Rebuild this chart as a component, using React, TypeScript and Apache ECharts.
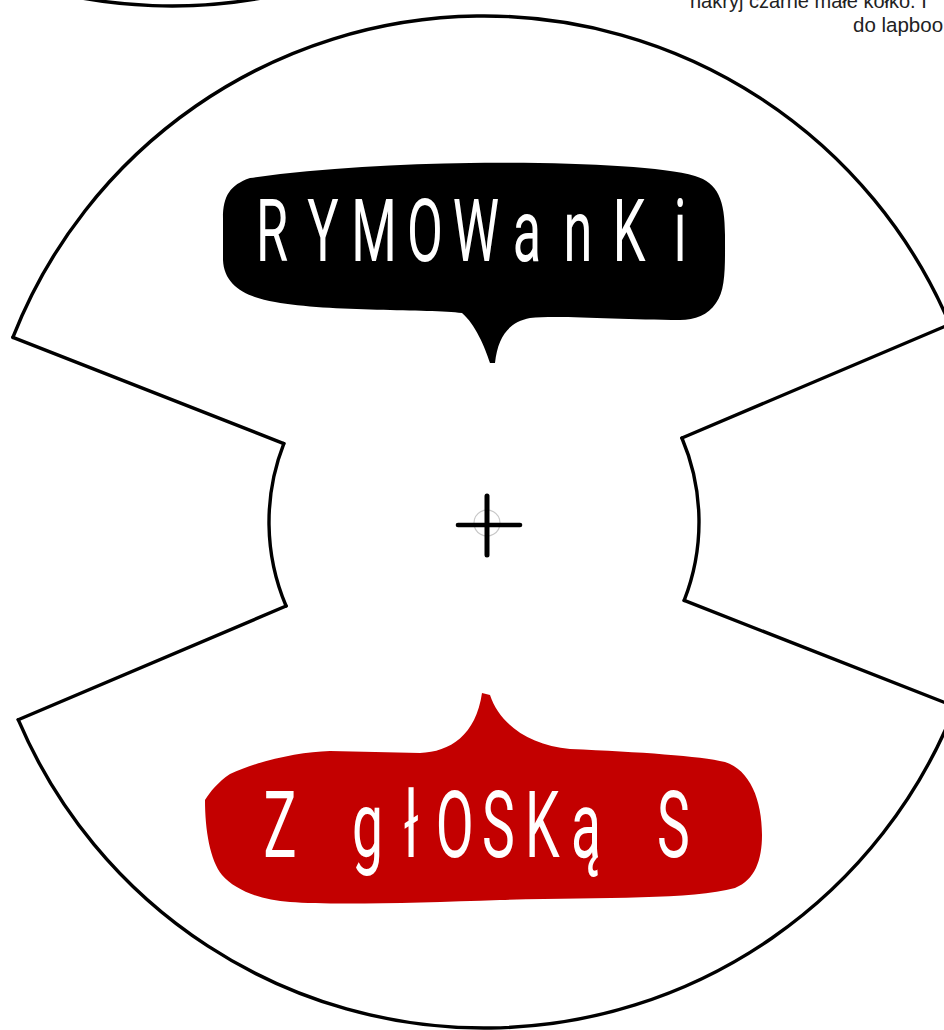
import React, { useEffect, useRef } from "react";
import * as echarts from "echarts";

// ---- content ----
const topLetters = ["R", "Y", "M", "O", "W", "a", "n", "K", "i"];
const bottomLetters = ["Z", " ", "g", "ł", "O", "S", "K", "ą", " ", "S"];
const noteLines = ["nakryj czarne małe kółko. I", "do lapboo"];

// wheel geometry (degrees, screen coordinates)
const gapCenters = [-0.8, 179.2];
const gapHalfWidth = 22.2;

const W = 944;
const H = 1030;

const topBubblePath =
  "M 223 218 C 223 196 230 185 250 178 C 320 168 400 164 470 163 C 570 162 660 166 695 176 " +
  "C 718 183 725 200 725 235 C 725 265 726 290 716 303 C 708 315 695 320 680 320 " +
  "C 620 320 560 315 530 318 C 510 322 498 335 495 363 L 490 363 C 485 347 475 324 462 313 " +
  "C 430 309 330 312 275 302 C 245 297 224 285 223 260 Z";

const bottomBubblePath =
  "M 205 800 C 210 792 218 782 230 774 C 260 760 300 752 330 751 L 420 753 " +
  "C 450 752 476 735 482 693 L 490 695 C 500 725 530 745 570 749 " +
  "C 640 752 700 756 725 762 C 750 770 762 800 762 835 C 762 860 755 880 735 888 " +
  "C 690 900 600 897 500 900 C 420 903 330 905 290 902 C 260 900 235 890 222 875 " +
  "C 210 860 205 830 205 800 Z";

echarts.graphic.registerShape("bubbleTop", echarts.graphic.extendPath(topBubblePath, {}));
echarts.graphic.registerShape("bubbleBottom", echarts.graphic.extendPath(bottomBubblePath, {}));

function buildElements() {
  const cx = 484;
  const cy = 522;
  const rOut = 506;
  const rIn = 215;
  const d2r = Math.PI / 180;
  const lineStyle = { stroke: "#000", lineWidth: 3.4, fill: null, lineCap: "round" };

  const right = [gapCenters[0] - gapHalfWidth, gapCenters[0] + gapHalfWidth];
  const left = [gapCenters[1] - gapHalfWidth, gapCenters[1] + gapHalfWidth];

  const els: any[] = [];
  // outer arcs
  els.push({
    type: "arc",
    shape: { cx, cy, r: rOut, startAngle: (left[1] - 360) * d2r, endAngle: right[0] * d2r, clockwise: true },
    style: lineStyle,
  });
  els.push({
    type: "arc",
    shape: { cx, cy, r: rOut, startAngle: right[1] * d2r, endAngle: left[0] * d2r, clockwise: true },
    style: lineStyle,
  });
  // inner arcs
  els.push({
    type: "arc",
    shape: { cx, cy, r: rIn, startAngle: right[0] * d2r, endAngle: right[1] * d2r, clockwise: true },
    style: lineStyle,
  });
  els.push({
    type: "arc",
    shape: { cx, cy, r: rIn, startAngle: left[0] * d2r, endAngle: left[1] * d2r, clockwise: true },
    style: lineStyle,
  });
  // radial edges
  [right[0], right[1], left[0], left[1]].forEach((a) => {
    const c = Math.cos(a * d2r);
    const s = Math.sin(a * d2r);
    els.push({
      type: "line",
      shape: { x1: cx + rIn * c, y1: cy + rIn * s, x2: cx + rOut * c, y2: cy + rOut * s },
      style: lineStyle,
    });
  });

  // neighbouring wheel peeking at the top-left
  els.push({
    type: "circle",
    shape: { cx: 172, cy: -500, r: 506 },
    style: { stroke: "#000", lineWidth: 3.4, fill: null },
  });

  // speech bubbles
  els.push({ type: "bubbleTop", style: { fill: "#000" } });
  els.push({ type: "bubbleBottom", style: { fill: "#c30000" } });

  // bubble texts
  topLetters.forEach((ch, i) => {
    if (ch === " ") return;
    els.push({
      type: "text",
      x: 272 + i * 51,
      y: 231,
      scaleX: 0.6,
      style: {
        text: ch,
        fill: "#fff",
        fontFamily: "Roboto",
        fontWeight: 400,
        fontSize: 87,
        align: "center",
        verticalAlign: "middle",
      },
    });
  });
  bottomLetters.forEach((ch, i) => {
    if (ch === " ") return;
    els.push({
      type: "text",
      x: 280 + i * 43.7,
      y: 826,
      scaleX: 0.6,
      style: {
        text: ch,
        fill: "#fff",
        fontFamily: "Roboto",
        fontWeight: 400,
        fontSize: 92,
        align: "center",
        verticalAlign: "middle",
      },
    });
  });

  // centre mark
  els.push({
    type: "circle",
    shape: { cx: 487, cy: 523, r: 13 },
    style: { stroke: "#c8c8c8", lineWidth: 1.2, fill: null },
  });
  els.push({
    type: "line",
    shape: { x1: 458, y1: 525, x2: 520, y2: 525 },
    style: { stroke: "#000", lineWidth: 4.6, lineCap: "round" },
  });
  els.push({
    type: "line",
    shape: { x1: 487, y1: 496, x2: 487, y2: 555 },
    style: { stroke: "#000", lineWidth: 5, lineCap: "round" },
  });

  // note at the top right
  els.push({
    type: "text",
    x: 690,
    y: 1,
    style: {
      text: noteLines[0],
      fill: "#222",
      fontFamily: "Liberation Sans",
      fontSize: 20,
      align: "left",
      verticalAlign: "middle",
    },
  });
  els.push({
    type: "text",
    x: 853,
    y: 24,
    style: {
      text: noteLines[1],
      fill: "#222",
      fontFamily: "Liberation Sans",
      fontSize: 20.5,
      align: "left",
      verticalAlign: "middle",
    },
  });

  return els;
}

export default function App() {
  const ref = useRef<HTMLDivElement>(null);
  useEffect(() => {
    if (!ref.current) return;
    const chart = echarts.init(ref.current, null, { renderer: "svg" });
    chart.setOption({
      animation: false,
      backgroundColor: "#fff",
      graphic: { elements: buildElements() },
    });
    return () => chart.dispose();
  }, []);
  return (
    <div
      ref={ref}
      style={{ position: "absolute", left: 0, top: 0, width: W, height: H, background: "#fff" }}
    />
  );
}
